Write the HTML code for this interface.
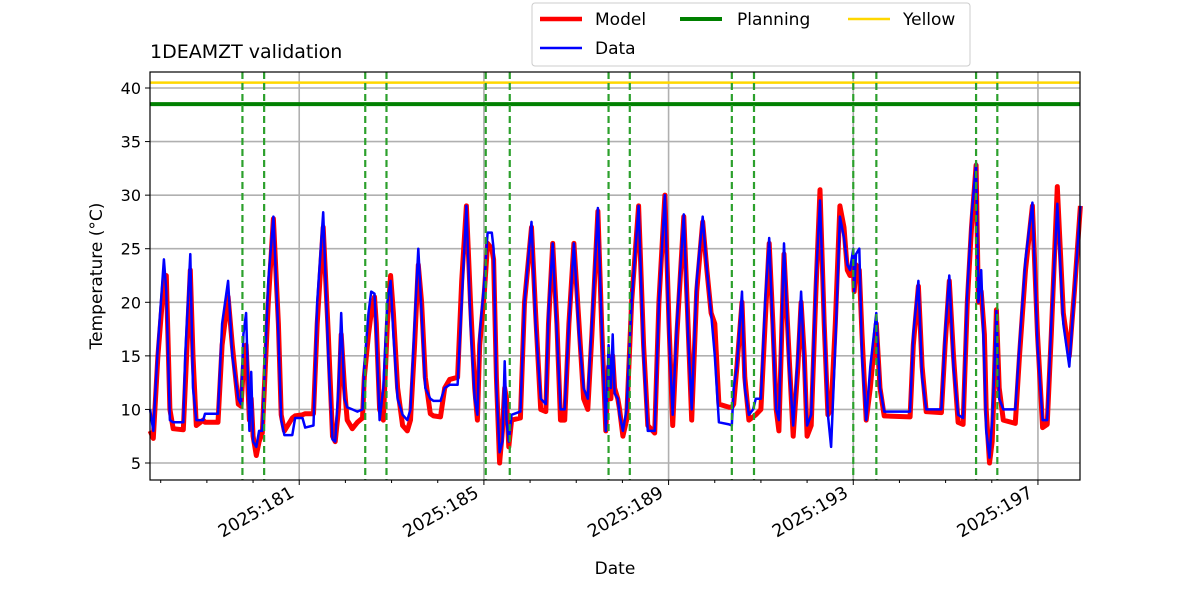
<!DOCTYPE html>
<html><head><meta charset="utf-8"><style>
body{margin:0;background:#fff}
svg text{font-family:"DejaVu Sans","Liberation Sans",sans-serif;fill:#000}
</style></head><body>
<svg id="chart" width="1200" height="600" viewBox="0 0 1200 600" xmlns="http://www.w3.org/2000/svg">
<text x="150" y="58" font-size="19">1DEAMZT validation</text>
<g id="grid"></g>
<g id="marks"></g>
<rect x="150" y="72" width="930" height="408" fill="none" stroke="#000" stroke-width="1.2"/>
<g id="axes"></g>
<text x="0" y="0" transform="translate(102,276) rotate(-90)" text-anchor="middle" font-size="17">Temperature (°C)</text>
<text x="615" y="574" text-anchor="middle" font-size="17">Date</text>
<g>
<rect x="532" y="3" width="438" height="63" rx="3" fill="#fff" stroke="#ccc"/>
<g><line x1="540" y1="19" x2="582" y2="19" stroke="#f00" stroke-width="4.5"/><text x="595" y="25" font-size="17">Model</text></g>
<g><line x1="540" y1="48" x2="582" y2="48" stroke="#00f" stroke-width="2.5"/><text x="595" y="54" font-size="17">Data</text></g>
<g><line x1="680" y1="19" x2="722" y2="19" stroke="#008000" stroke-width="4"/><text x="737" y="25" font-size="17">Planning</text></g>
<g><line x1="848" y1="19" x2="890" y2="19" stroke="#ffd700" stroke-width="2.5"/><text x="903" y="25" font-size="17">Yellow</text></g>
</g>
</svg>
<script>
const times=[177.77,177.84,177.94,178.07,178.12,178.20,178.27,178.49,178.53,178.64,178.70,178.77,178.92,178.96,179.24,179.33,179.46,179.55,179.68,179.74,179.79,179.85,179.92,179.96,180.00,180.07,180.13,180.20,180.33,180.44,180.55,180.61,180.68,180.85,180.91,181.07,181.13,181.31,181.39,181.52,181.63,181.72,181.78,181.85,181.91,181.98,182.04,182.15,182.26,182.37,182.41,182.50,182.56,182.63,182.67,182.74,182.82,182.91,182.98,183.04,183.13,183.24,183.34,183.41,183.50,183.58,183.65,183.73,183.84,183.91,184.06,184.15,184.26,184.43,184.52,184.62,184.71,184.80,184.86,184.91,185.01,185.08,185.17,185.21,185.27,185.34,185.40,185.45,185.49,185.54,185.60,185.79,185.88,186.03,186.12,186.23,186.34,186.40,186.49,186.58,186.66,186.75,186.84,186.95,187.06,187.16,187.25,187.34,187.47,187.55,187.64,187.70,187.75,187.79,187.83,187.90,187.94,188.01,188.09,188.20,188.35,188.46,188.55,188.70,188.79,188.92,189.01,189.09,189.18,189.33,189.42,189.50,189.61,189.74,189.83,189.92,190.00,190.09,190.31,190.37,190.41,190.48,190.59,190.65,190.74,190.83,190.89,191.00,191.09,191.18,191.26,191.33,191.39,191.50,191.61,191.70,191.80,191.87,191.94,192.00,192.09,192.19,192.28,192.37,192.45,192.52,192.61,192.71,192.80,192.87,192.93,193.00,193.02,193.06,193.13,193.19,193.28,193.37,193.50,193.58,193.67,194.23,194.30,194.41,194.49,194.58,194.91,194.99,195.08,195.17,195.27,195.38,195.47,195.56,195.66,195.71,195.77,195.84,195.88,195.95,196.01,196.05,196.10,196.16,196.25,196.51,196.60,196.73,196.88,196.99,197.10,197.20,197.29,197.42,197.55,197.68,197.79,197.92];
const dataTemps=[10,8,16,24,21,9,8.8,8.8,15,24.5,12,9,9,9.6,9.6,18,22,15,11,10.5,17,19,8,13.5,7,6.5,8,8,22,28,17,9,7.6,7.6,9.2,9.2,8.3,8.5,20,28.4,15,7.2,7,12,19,11,10.2,10,9.8,10,14,19,21,20.8,17,9,12,20,22,17,11,9.5,9,10,18,25,19,12,11,10.8,10.8,12,12.3,12.3,20,29,18,11,9.5,17,22,26.5,26.5,25,12,6,7,14.5,9,7,9.5,9.8,20,27.5,18,11,10.5,19,25.5,17,10,10,18,25.5,17,12,11,18,28.8,18,8,16,12,17,11.5,11,9.5,8,10,20,29,15,8,8,20,30,17,9.5,18,28.2,17,10,22,28,23,19,15,8.8,8.6,8.5,12,14,21,12,9.5,10,11,11,20,26,17,10,9,25.5,14,8.5,15,21,14,8.5,9.5,22,29.5,18,9.5,6.5,16,28,26,23.5,23,25,21,24.5,25,15,9,14,19,12,9.8,9.8,17,22,13,10,10,17,22.5,14,9.5,9.2,21,28,33,20,23,14,8,5.5,9,13,19.2,11,10,10,16,24,29.3,16,9,9,18,29.2,18,14,21,29];
const modelTemps=[8,7.3,15,22,22.5,10,8.2,8.1,12,23,15,8.5,9,8.8,8.8,16,20.5,16,10.5,10.3,14,16,9,11,7.5,5.7,7,7.8,20,27.8,18,9.5,8,9.2,9.4,9.5,9.6,9.6,18,27,17,7.5,7,10,17,12,9,8.2,8.8,9.2,13,17,19,20.5,18,10,9,18,22.5,19,12,8.5,8,9,16,23.5,20,13,9.6,9.4,9.3,12,12.8,13,22,29,20,12,9,16,21,25.5,25,24,13,5,8,12,11,6.5,9,9.2,20,27,19,10,9.8,18,25.5,18,9,9,18,25.5,18,11,10,17,28.5,18,8,14,11,15,12,11,10,7.5,9,20,29,16,8.5,7.8,20,30,18,8.5,17,28,18,9,21,27.5,23,19,18,10.5,10.2,10.2,10.5,14,20,13,9,9.3,9.5,10,18,25.5,18,10,8,24.5,15,7.5,14,20,15,7.5,8.5,21,30.5,18,9.5,10,18,29,27,23,22.5,23.5,21,23.5,23,17,9,12,18,12,9.4,9.3,16,21.5,14,9.8,9.7,16,22,15,8.8,8.6,20,27,32.8,20,21,17,10,5,7,12,19.3,12,9,8.7,15,23,29,17,8.3,8.6,17,30.8,19,15,21,29];
const eventDays=[179.77,180.24,182.43,182.89,185.04,185.56,187.70,188.16,190.37,190.85,193.00,193.50,195.66,196.12];
const yTicks=[5,10,15,20,25,30,35,40];
const xTickDays=[181,185,189,193,197];
const xTickLabels=["2025:181","2025:185","2025:189","2025:193","2025:197"];
const planningLimit=38.5, yellowLimit=40.5;

const NS="http://www.w3.org/2000/svg";
const X0=150,X1=1080,Y0=72,Y1=480;
function xs(t){return 150+(t-177.768)*46.17;}
function ys(v){return 463-(v-5)*10.714;}
function mk(tag,attrs,parent){const e=document.createElementNS(NS,tag);for(const k in attrs)e.setAttribute(k,attrs[k]);parent.appendChild(e);return e;}
const grid=document.getElementById('grid'),marks=document.getElementById('marks'),axes=document.getElementById('axes');

yTicks.forEach(v=>{
  const g=mk('line',{x1:X0,x2:X1,y1:ys(v),y2:ys(v),stroke:'#b0b0b0','stroke-width':1.6},grid);
  
  
  const t=mk('line',{x1:X0-5,x2:X0,y1:ys(v),y2:ys(v),stroke:'#000'},axes);
  
  
  const l=mk('text',{x:X0-9,y:ys(v)+6,'text-anchor':'end','font-size':16},axes);
  l.textContent=v;
  
  
});
xTickDays.forEach((d,i)=>{
  const x=xs(d);
  const g=mk('line',{x1:x,x2:x,y1:Y0,y2:Y1,stroke:'#b0b0b0','stroke-width':1.6},grid);
  
  
  const t=mk('line',{x1:x,x2:x,y1:Y1,y2:Y1+5,stroke:'#000'},axes);
  
  
  const l=mk('text',{x:0,y:0,'text-anchor':'end','font-size':17.5,transform:`translate(${x-4},${Y1+16}) rotate(-30)`},axes);
  l.textContent=xTickLabels[i];
  
  
});
for(let d=178;d<=197;d++){
  if(xTickDays.includes(d))continue;
  const t=mk('line',{x1:xs(d),x2:xs(d),y1:Y1,y2:Y1+3,stroke:'#000'},axes);
  
  
}
const yl=mk('line',{x1:X0,x2:X1,y1:ys(yellowLimit),y2:ys(yellowLimit),stroke:'#ffd700','stroke-width':2.5},marks);


const pl=mk('line',{x1:X0,x2:X1,y1:ys(planningLimit),y2:ys(planningLimit),stroke:'#008000','stroke-width':4},marks);


function path(vals){return vals.map((v,i)=>(i?'L':'M')+xs(times[i]).toFixed(1)+','+ys(v).toFixed(1)).join(' ');}
const mp=mk('path',{d:path(modelTemps),fill:'none',stroke:'#f00','stroke-width':5,'stroke-linejoin':'round'},marks);


const dp=mk('path',{d:path(dataTemps),fill:'none',stroke:'#00f','stroke-width':2.5,'stroke-linejoin':'round'},marks);


eventDays.forEach(d=>{
  const e=mk('line',{x1:xs(d),x2:xs(d),y1:Y0,y2:Y1,stroke:'#2ca02c','stroke-width':2.2,'stroke-dasharray':'7,4'},marks);
  
  
});
</script>
</body></html>
